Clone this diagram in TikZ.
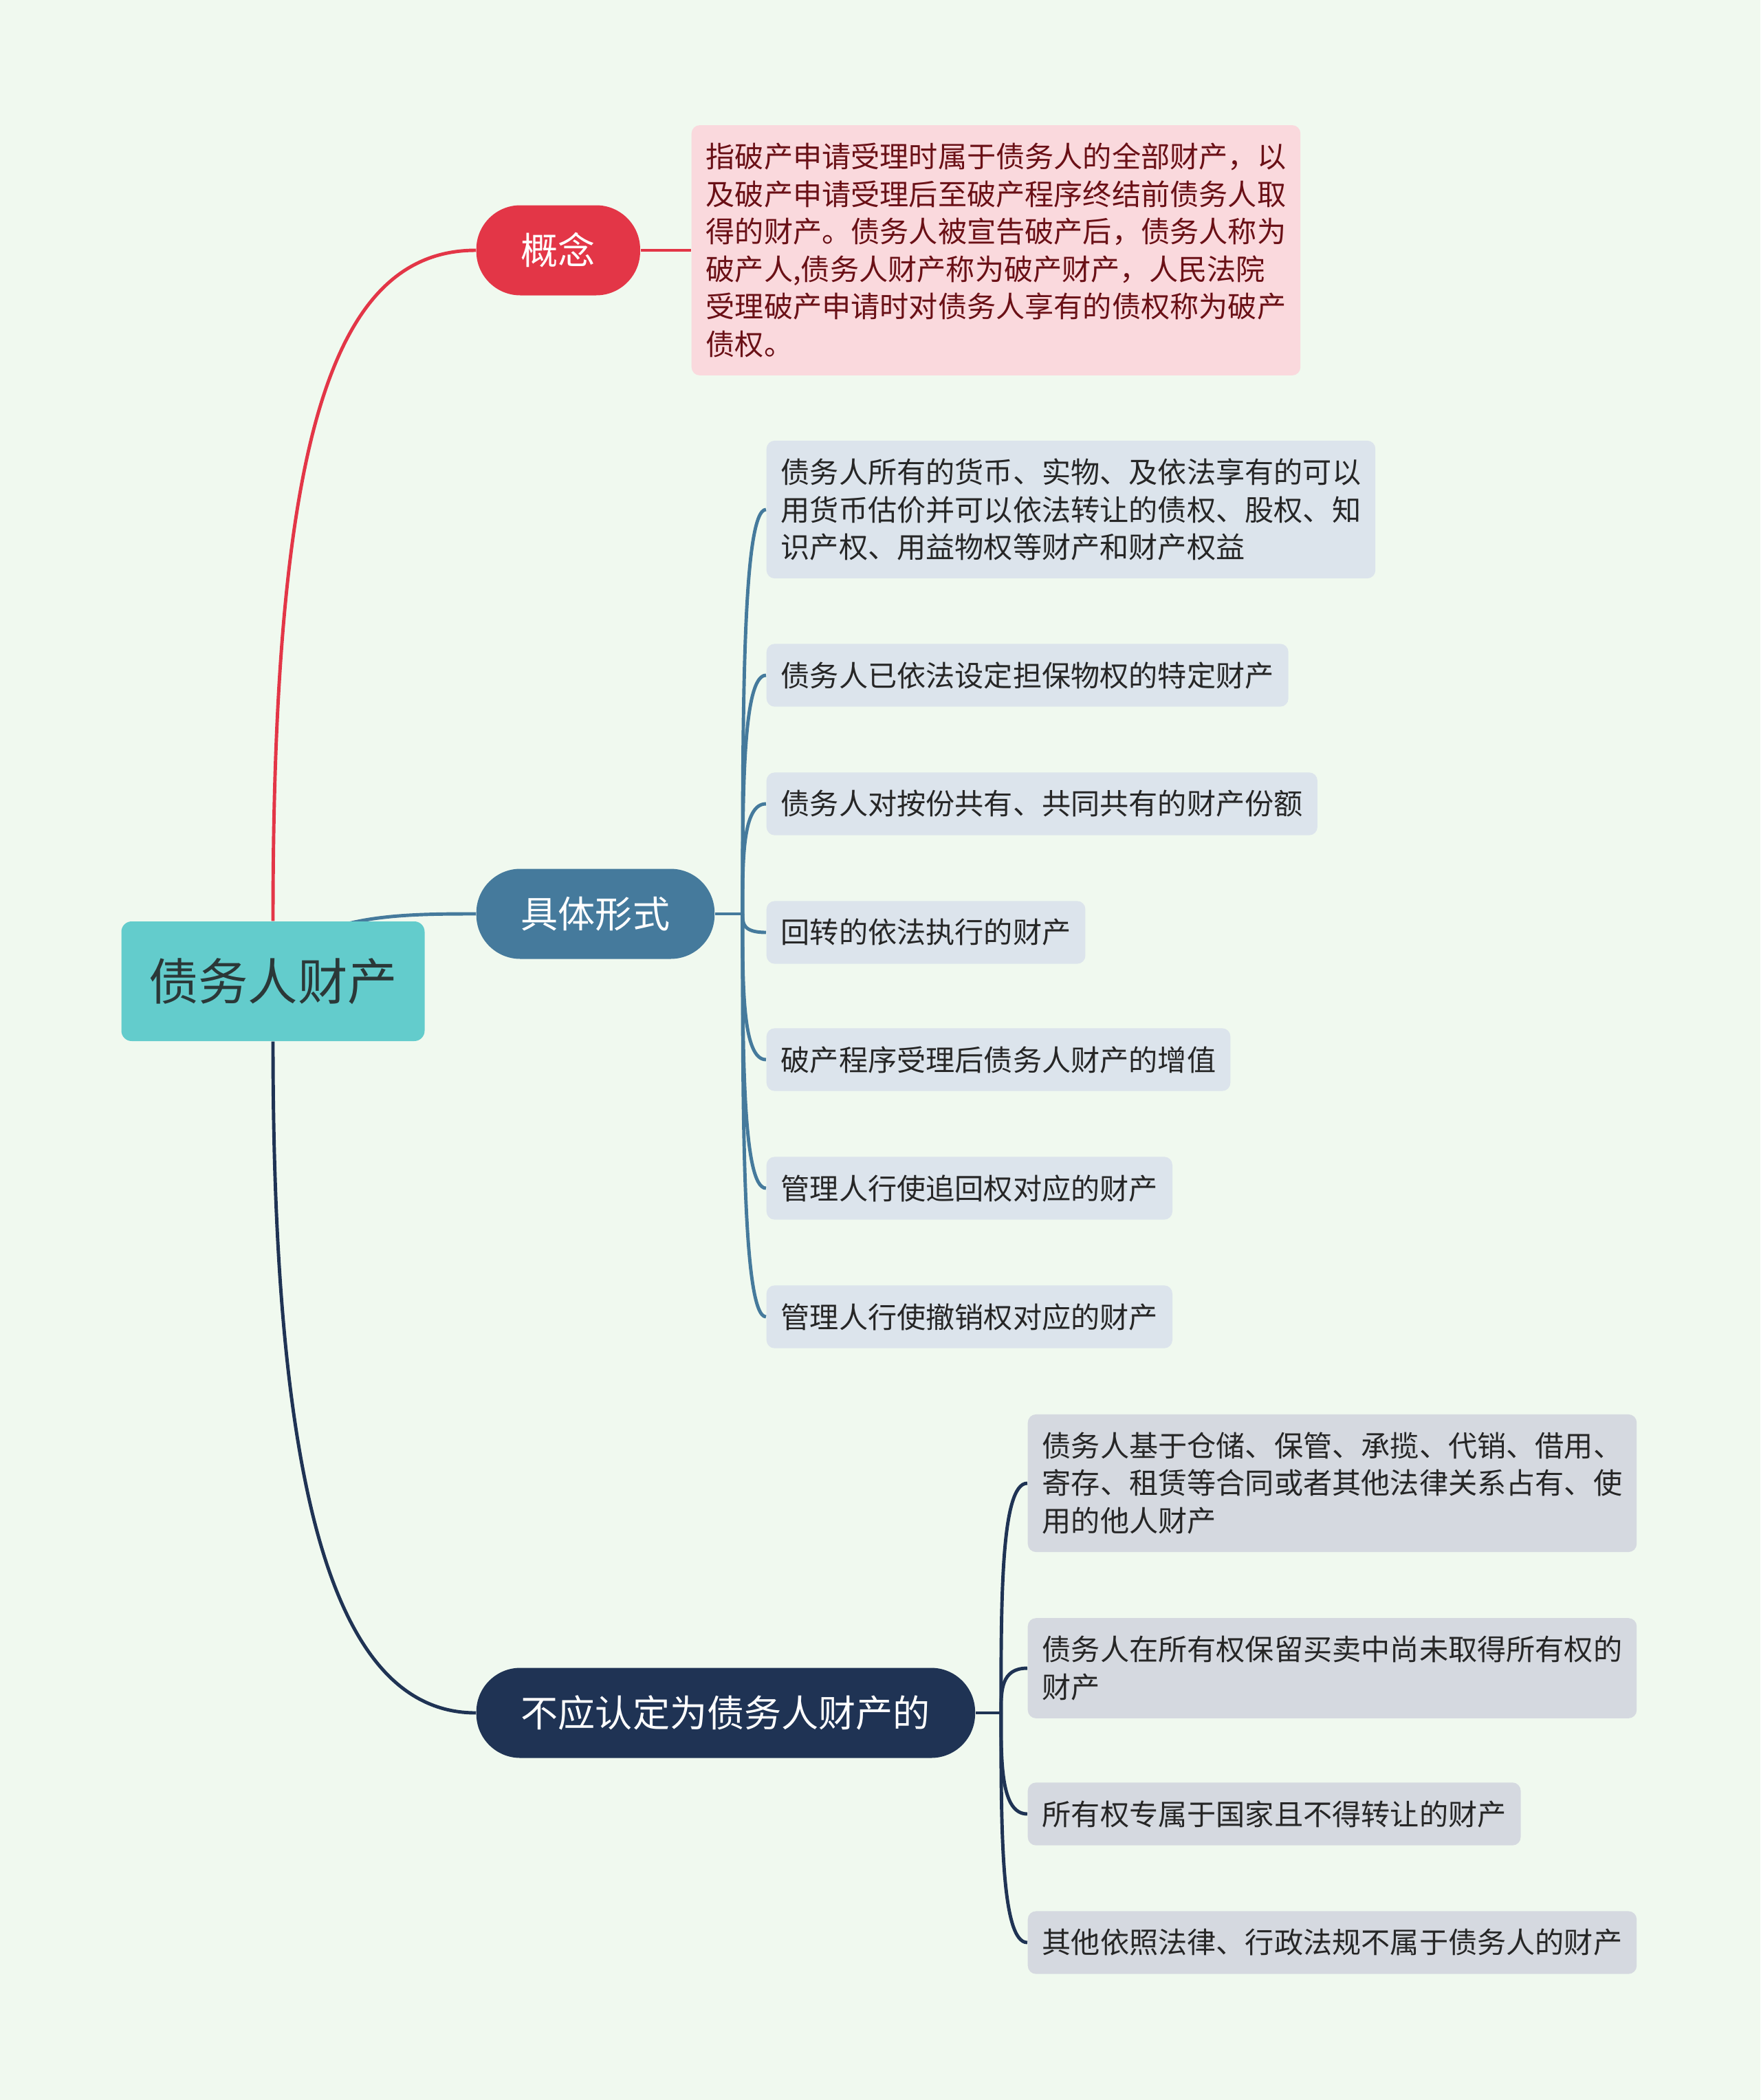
\documentclass[tikz,border=0pt]{standalone}
\usepackage{fontspec}
\setmainfont{Noto Sans CJK SC}
\usepackage{tikz}
\usetikzlibrary{positioning, calc, backgrounds}

\definecolor{bgmint}{HTML}{F0F9EF}
\definecolor{rootteal}{HTML}{63CCCC}
\definecolor{roottext}{HTML}{2B3838}
\definecolor{conceptred}{HTML}{E33647}
\definecolor{conceptpink}{HTML}{FAD9DD}
\definecolor{concepttext}{HTML}{6A1016}
\definecolor{formblue}{HTML}{457A9C}
\definecolor{formpale}{HTML}{DCE4EC}
\definecolor{excludenavy}{HTML}{1F3354}
\definecolor{excludegrey}{HTML}{D5D9E0}
\definecolor{leaftext}{HTML}{262626}

\begin{document}
\begin{tikzpicture}[
        root/.style={rectangle, fill=rootteal, rounded corners=0.15cm, minimum width=4.41cm, minimum height=1.74cm, text=roottext, font=\fontsize{20.6pt}{24pt}\selectfont},
        branch/.style={rectangle, rounded corners=0.64cm, minimum height=1.31cm, inner xsep=0.65cm, text=white, font=\fontsize{15.4pt}{18pt}\selectfont},
        leaf/.style={rectangle, rounded corners=0.12cm, inner xsep=0.21cm, inner ysep=0.26cm, align=left, text=leaftext, font=\fontsize{12pt}{15.5pt}\selectfont},
        link/.style={line width=1.4pt}
    ]
        \useasboundingbox (0,0) rectangle (25.6,-30.54);

        % Root
        \node[root] (root) at (3.97, -14.27) {债务人财产};

        % Branch 1
        \node[branch, fill=conceptred, anchor=west] (concept) at (6.92, -3.64) {概念};
        \node[leaf, fill=conceptpink, text=concepttext, anchor=west] (def) at (10.05, -3.64) {指破产申请受理时属于债务人的全部财产，以\\及破产申请受理后至破产程序终结前债务人取\\得的财产。债务人被宣告破产后，债务人称为\\破产人,债务人财产称为破产财产，人民法院\\受理破产申请时对债务人享有的债权称为破产\\债权。};

        % Branch 2
        \node[branch, fill=formblue, anchor=west] (form) at (6.92, -13.29) {具体形式};
        \node[leaf, fill=formpale, anchor=west] (f1) at (11.14, -7.41) {债务人所有的货币、实物、及依法享有的可以\\用货币估价并可以依法转让的债权、股权、知\\识产权、用益物权等财产和财产权益};
        \node[leaf, fill=formpale, anchor=west] (f2) at (11.14, -9.82) {债务人已依法设定担保物权的特定财产};
        \node[leaf, fill=formpale, anchor=west] (f3) at (11.14, -11.69) {债务人对按份共有、共同共有的财产份额};
        \node[leaf, fill=formpale, anchor=west] (f4) at (11.14, -13.56) {回转的依法执行的财产};
        \node[leaf, fill=formpale, anchor=west] (f5) at (11.14, -15.41) {破产程序受理后债务人财产的增值};
        \node[leaf, fill=formpale, anchor=west] (f6) at (11.14, -17.28) {管理人行使追回权对应的财产};
        \node[leaf, fill=formpale, anchor=west] (f7) at (11.14, -19.15) {管理人行使撤销权对应的财产};

        % Branch 3
        \node[branch, fill=excludenavy, anchor=west] (exclude) at (6.92, -24.91) {不应认定为债务人财产的};
        \node[leaf, fill=excludegrey, anchor=west] (x1) at (14.94, -21.57) {债务人基于仓储、保管、承揽、代销、借用、\\寄存、租赁等合同或者其他法律关系占有、使\\用的他人财产};
        \node[leaf, fill=excludegrey, anchor=west] (x2) at (14.94, -24.26) {债务人在所有权保留买卖中尚未取得所有权的\\财产};
        \node[leaf, fill=excludegrey, anchor=west] (x3) at (14.94, -26.38) {所有权专属于国家且不得转让的财产};
        \node[leaf, fill=excludegrey, anchor=west] (x4) at (14.94, -28.25) {其他依照法律、行政法规不属于债务人的财产};

        \coordinate (formfork) at ($(form.east)+(0.4,0)$);
        \coordinate (excludefork) at ($(exclude.east)+(0.37,0)$);

        \begin{scope}[on background layer]
            \fill[bgmint] (0,0) rectangle (25.6,-30.54);

            % Root links
            \draw[link, conceptred] (root.north) .. controls +(0,6.9) and +(-2.12,0) .. (concept.west);
            \draw[link, formblue] (root.center) .. controls +(0.35,0.97) and +(-1.2,0) .. (form.west);
            \draw[link, excludenavy] (root.south) .. controls +(0,-6.36) and +(-2.12,0) .. (exclude.west);

            % Branch 1 links
            \draw[link, conceptred] (concept.east) -- (def.west);

            % Branch 2 links
            \draw[link, formblue] (form.east) -- (formfork);
            \draw[link, formblue] (formfork) .. controls ($(formfork)!0.5!(formfork |- f1.west)$) and (formfork |- f1.west) .. (f1.west);
            \draw[link, formblue] (formfork) .. controls ($(formfork)!0.5!(formfork |- f2.west)$) and (formfork |- f2.west) .. (f2.west);
            \draw[link, formblue] (formfork) .. controls ($(formfork)!0.5!(formfork |- f3.west)$) and (formfork |- f3.west) .. (f3.west);
            \draw[link, formblue] (formfork) .. controls ($(formfork)!0.5!(formfork |- f4.west)$) and (formfork |- f4.west) .. (f4.west);
            \draw[link, formblue] (formfork) .. controls ($(formfork)!0.5!(formfork |- f5.west)$) and (formfork |- f5.west) .. (f5.west);
            \draw[link, formblue] (formfork) .. controls ($(formfork)!0.5!(formfork |- f6.west)$) and (formfork |- f6.west) .. (f6.west);
            \draw[link, formblue] (formfork) .. controls ($(formfork)!0.5!(formfork |- f7.west)$) and (formfork |- f7.west) .. (f7.west);

            % Branch 3 links
            \draw[link, excludenavy] (exclude.east) -- (excludefork);
            \draw[link, excludenavy] (excludefork) .. controls ($(excludefork)!0.5!(excludefork |- x1.west)$) and (excludefork |- x1.west) .. (x1.west);
            \draw[link, excludenavy] (excludefork) .. controls ($(excludefork)!0.5!(excludefork |- x2.west)$) and (excludefork |- x2.west) .. (x2.west);
            \draw[link, excludenavy] (excludefork) .. controls ($(excludefork)!0.5!(excludefork |- x3.west)$) and (excludefork |- x3.west) .. (x3.west);
            \draw[link, excludenavy] (excludefork) .. controls ($(excludefork)!0.5!(excludefork |- x4.west)$) and (excludefork |- x4.west) .. (x4.west);
        \end{scope}
    \end{tikzpicture}
\end{document}
